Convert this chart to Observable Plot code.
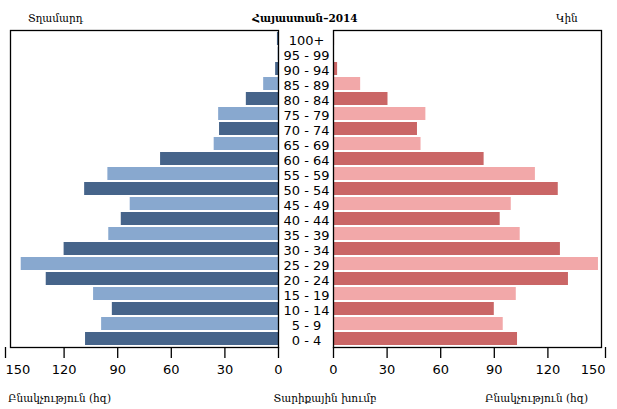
<!DOCTYPE html>
<html>
<head>
<meta charset="utf-8">
<script src="https://cdn.jsdelivr.net/npm/d3@7"></script>
<script src="https://cdn.jsdelivr.net/npm/@observablehq/plot@0.6"></script>
<style>
  body { margin: 0; background: white; }
  #wrap { position: relative; width: 617px; height: 409px; background: white; overflow: hidden; }
  .abs { position: absolute; }
  .arm { font-family: "DejaVu Serif", serif; font-size: 10.5px; line-height: 12px; color: #000; white-space: nowrap; }
</style>
</head>
<body>
<div id="wrap"></div>
<script>
const ages = ["0 - 4","5 - 9","10 - 14","15 - 19","20 - 24","25 - 29","30 - 34","35 - 39","40 - 44","45 - 49","50 - 54","55 - 59","60 - 64","65 - 69","70 - 74","75 - 79","80 - 84","85 - 89","90 - 94","95 - 99","100+"];
const male = [108, 99, 93, 103.5, 130, 144, 120, 95, 88, 83, 108.5, 95.5, 66, 36, 33, 33.5, 18, 8.3, 1.6, 0.2, 0.6];
const female = [103, 95, 90, 102.3, 131.5, 148.3, 127, 104.5, 93.3, 99.5, 125.8, 113, 84.3, 49, 47, 51.7, 30.5, 15.2, 2.3, 0.2, 0.6];
const innerTicks = [0, 30, 60, 90, 120];
const endTick = [150];
const titleText = "Հայաստան–2014";
const maleLabel = "Տղամարդ";
const femaleLabel = "Կին";
const popLabel = "Բնակչություն (հզ)";
const ageLabel = "Տարիքային խումբ";

const colors = {mDark: "#46648a", mLight: "#88a8cf", fDark: "#ca6666", fLight: "#f2a8a9"};
const rows = ages.map((a, i) => ({age: a, male: male[i], female: female[i], odd: i % 2 === 1}));
const yDomain = ages.slice().reverse();

const H = 380, MT = 30, MB = 33;
const common = {
  height: H, marginTop: MT, marginBottom: MB,
  y: {domain: yDomain, padding: 0.13, axis: null},
  color: {type: "identity"},
  style: {fontFamily: "DejaVu Sans, sans-serif", fontSize: "13px", color: "#000", background: "transparent", overflow: "visible"}
};
const axisOpts = {tickSize: 11, tickPadding: 6, anchor: "bottom", stroke: "#000", strokeWidth: 1.3, fill: "#000", label: null};

const left = Plot.plot({
  ...common,
  width: 283, marginLeft: 10, marginRight: 5,
  x: {domain: [0, 150], reverse: true, axis: null},
  marks: [
    Plot.barX(rows, {x: "male", y: "age", fill: d => d.odd ? colors.mLight : colors.mDark}),
    Plot.frame({stroke: "#000", strokeWidth: 1.3}),
    Plot.axisX({...axisOpts, ticks: innerTicks}),
    Plot.axisX({...axisOpts, ticks: endTick, textAnchor: "start", dx: -5})
  ]
});

const right = Plot.plot({
  ...common,
  width: 300, marginLeft: 16, marginRight: 16,
  x: {domain: [0, 150], axis: null},
  marks: [
    Plot.barX(rows, {x: "female", y: "age", fill: d => d.odd ? colors.fLight : colors.fDark}),
    Plot.frame({stroke: "#000", strokeWidth: 1.3}),
    Plot.axisX({...axisOpts, ticks: innerTicks}),
    Plot.axisX({...axisOpts, ticks: endTick, textAnchor: "end", dx: 4})
  ]
});

const mid = Plot.plot({
  ...common,
  width: 56, marginLeft: 0, marginRight: 0,
  x: {axis: null},
  marks: [
    Plot.text(rows, {y: "age", text: "age", frameAnchor: "middle", fill: "#000", fontSize: 13, dy: 1})
  ]
});

const wrap = document.getElementById("wrap");
function place(el, x, y) { el.classList.add("abs"); el.style.left = x + "px"; el.style.top = y + "px"; wrap.appendChild(el); return el; }
place(left, 0, 0);
place(mid, 278, 0);
place(right, 317, 0);

function label(text, x, y, opts = {}) {
  const d = document.createElement("div");
  d.className = "arm abs";
  d.textContent = text;
  d.style.left = x + "px"; d.style.top = y + "px";
  if (opts.center) d.style.transform = "translateX(-50%)";
  if (opts.bold) d.style.fontWeight = "bold";
  wrap.appendChild(d);
  return d;
}
label(maleLabel, 28, 12);
label(titleText, 305, 12, {center: true, bold: true});
label(femaleLabel, 556, 12);
label(popLabel, 8, 392);
label(ageLabel, 325, 392, {center: true});
label(popLabel, 485, 392);
</script>
</body>
</html>
